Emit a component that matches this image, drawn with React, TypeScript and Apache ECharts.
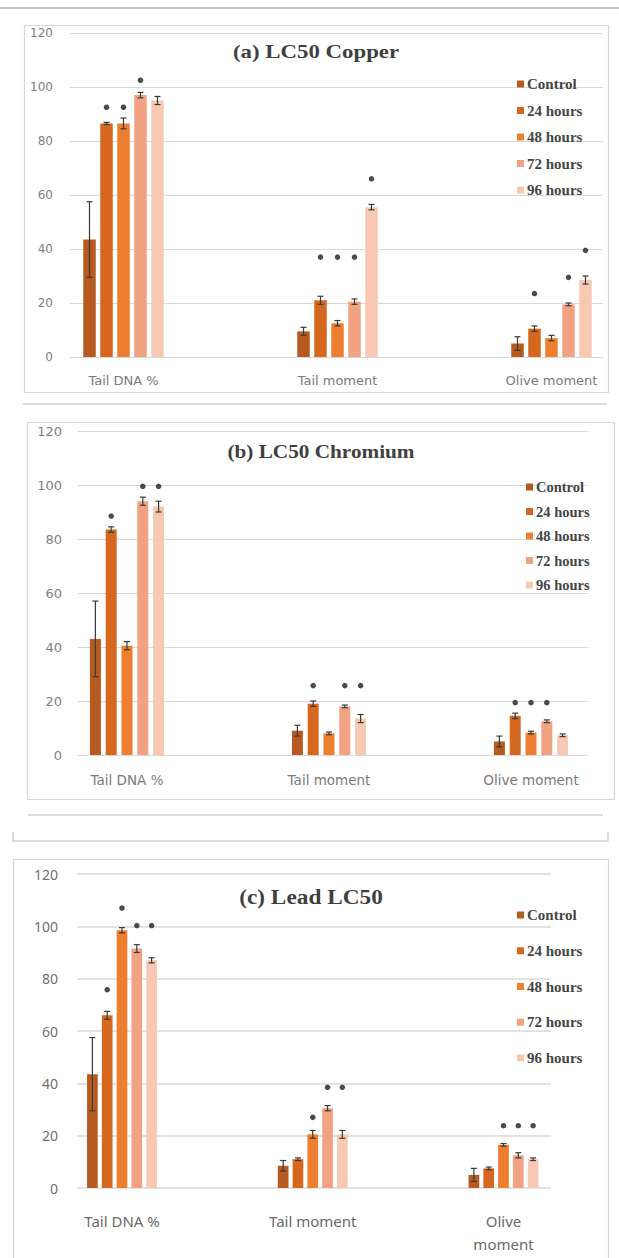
import React, { useEffect, useRef } from "react";
import * as echarts from "echarts";

// ---------- data ----------
const groupNames = ["Control", "24 hours", "48 hours", "72 hours", "96 hours"];
const categoriesAB = ["Tail DNA %", "Tail moment", "Olive moment"];
const categoriesC = ["Tail DNA %", "Tail moment", "Olive\nmoment"];
const yMin = 0;
const yMax = 120;
const yStep = 20;

// (a) LC50 Copper — per group: [Tail DNA %, Tail moment, Olive moment]
const copperValues = [
  [43.5, 9.5, 5],
  [86.5, 21, 10.5],
  [86.5, 12.5, 7],
  [97, 20.5, 19.5],
  [95, 55.5, 28.5],
];
const copperErrors = [
  [14, 1.5, 2.5],
  [0.4, 1.5, 1],
  [2, 1, 1],
  [1, 1, 0.5],
  [1.5, 1, 1.5],
];
const copperStars = [
  [null, null, null],
  [92.5, 37, 23.5],
  [92.5, 37, null],
  [102.5, 37, 29.5],
  [null, 66, 39.5],
];

// (b) LC50 Chromium
const chromiumValues = [
  [43, 9, 5],
  [83.5, 19, 14.5],
  [40.5, 8, 8.3],
  [94, 18, 12.5],
  [92, 13.5, 7.3],
];
const chromiumErrors = [
  [14, 2, 2],
  [1, 1, 1],
  [1.5, 0.5, 0.5],
  [1.5, 0.5, 0.5],
  [2, 1.5, 0.5],
];
const chromiumStars = [
  [null, null, null],
  [88.5, 25.7, 19.4],
  [null, null, 19.4],
  [99.5, 25.7, 19.4],
  [99.5, 25.7, null],
];

// (c) Lead LC50
const leadValues = [
  [43.5, 8.5, 5],
  [66, 11, 7.5],
  [98.5, 20.5, 16.5],
  [91.5, 30.5, 12.5],
  [87, 20.5, 11],
];
const leadErrors = [
  [14, 2, 2.5],
  [1.5, 0.5, 0.5],
  [1, 1.5, 0.5],
  [1.5, 1, 1],
  [1, 1.5, 0.5],
];
const leadStars = [
  [null, null, null],
  [75.8, null, null],
  [107, 27, 23.8],
  [100.3, 38.5, 23.8],
  [100.3, 38.5, 23.8],
];

const panelTitles = ["(a) LC50 Copper", "(b) LC50 Chromium", "(c) Lead LC50"];

// ---------- styles / layout ----------
const colors = ["#b65a20", "#d6671f", "#ee7e30", "#f1a282", "#f7c8b3"];
const gridColor = "#d9d9d9";
const frameColor = "#d6d6d6";

const layouts = [
  {
    gridA: { left: 70, top: 33, width: 533, height: 324 },
    gridB: { left: 123.5, top: 33, width: 428, height: 324 },
    step: 17, barW: 12.5,
    yFont: { fontFamily: "DejaVu Sans", fontSize: 12, color: "#808080", margin: 17 },
    xFont: { fontFamily: "DejaVu Sans", fontSize: 13, color: "#7a7a7a", margin: 16, lineHeight: 15 },
    title: { x: 316, y: 52, fontSize: 18, scaleX: 1.27 },
    legend: { left: 517, top: 76, fontSize: 15, lineHeight: 16, gap: 10.5 },
    frame: { x: 24, y: 25, w: 584, h: 367 },
  },
  {
    gridA: { left: 78, top: 431, width: 510, height: 324 },
    gridB: { left: 127, top: 431, width: 404, height: 324 },
    step: 15.8, barW: 11,
    yFont: { fontFamily: "DejaVu Sans", fontSize: 13, color: "#808080", margin: 16 },
    xFont: { fontFamily: "DejaVu Sans", fontSize: 13.5, color: "#7a7a7a", margin: 17, lineHeight: 15 },
    title: { x: 321, y: 452, fontSize: 18, scaleX: 1.18 },
    legend: { left: 526, top: 479, fontSize: 14.5, lineHeight: 16, gap: 8.5 },
    frame: { x: 27, y: 422, w: 587, h: 377 },
  },
  {
    gridA: { left: 77, top: 874, width: 474, height: 314 },
    gridB: { left: 122, top: 874, width: 381.5, height: 314 },
    step: 14.8, barW: 10.7,
    yFont: { fontFamily: "Noto Sans", fontSize: 14, color: "#707070", margin: 19 },
    xFont: { fontFamily: "Noto Sans", fontSize: 15, color: "#6a6a6a", margin: 21, lineHeight: 23 },
    title: { x: 311, y: 897, fontSize: 22, scaleX: 1.06 },
    legend: { left: 517, top: 906, fontSize: 15, lineHeight: 18, gap: 17.75 },
    frame: { x: 13, y: 859, w: 595, h: 420 },
  },
];

const panelData = [
  { cats: categoriesAB, values: copperValues, errors: copperErrors, stars: copperStars },
  { cats: categoriesAB, values: chromiumValues, errors: chromiumErrors, stars: chromiumStars },
  { cats: categoriesC, values: leadValues, errors: leadErrors, stars: leadStars },
];

function buildOption() {
  const grid: any[] = [];
  const xAxis: any[] = [];
  const yAxis: any[] = [];
  const series: any[] = [];
  const legend: any[] = [];
  const graphic: any[] = [];

  // decorative frames and separators
  graphic.push({ type: "line", shape: { x1: 0, y1: 8, x2: 619, y2: 8 }, style: { stroke: "#c4c4c4", lineWidth: 2 }, silent: true });
  graphic.push({ type: "line", shape: { x1: 23, y1: 404, x2: 607, y2: 404 }, style: { stroke: "#d0d0d0", lineWidth: 1.5 }, silent: true });
  graphic.push({ type: "line", shape: { x1: 28, y1: 815, x2: 603, y2: 815 }, style: { stroke: "#d0d0d0", lineWidth: 1.5 }, silent: true });
  graphic.push({
    type: "polyline",
    shape: { points: [[13, 832], [13, 841], [608, 841], [608, 832]] },
    style: { stroke: "#cfcfcf", lineWidth: 1.5, fill: null },
    silent: true,
  });

  layouts.forEach((L, p) => {
    const D = panelData[p];
    graphic.push({
      type: "rect",
      shape: { x: L.frame.x + 0.5, y: L.frame.y + 0.5, width: L.frame.w, height: L.frame.h },
      style: { fill: null, stroke: frameColor, lineWidth: 1.2 },
      silent: true,
      z: -1,
    });
    graphic.push({
      type: "text",
      x: L.title.x,
      y: L.title.y,
      scaleX: L.title.scaleX,
      style: {
        text: panelTitles[p],
        fontFamily: "Liberation Serif",
        fontWeight: "bold",
        fontSize: L.title.fontSize,
        fill: "#404040",
        align: "center",
        verticalAlign: "middle",
      },
      silent: true,
    });

    const a = 2 * p;
    const b = 2 * p + 1;
    grid.push({ ...L.gridA, containLabel: false });
    grid.push({ ...L.gridB, containLabel: false });

    xAxis.push({ type: "value", gridIndex: a, show: false, min: 0, max: 1 });
    xAxis.push({
      type: "category",
      gridIndex: b,
      data: D.cats,
      boundaryGap: false,
      axisLine: { show: false },
      axisTick: { show: false },
      splitLine: { show: false },
      axisLabel: {
        interval: 0,
        color: L.xFont.color,
        fontFamily: L.xFont.fontFamily,
        fontSize: L.xFont.fontSize,
        margin: L.xFont.margin,
        lineHeight: L.xFont.lineHeight,
      },
    });
    yAxis.push({
      type: "value",
      gridIndex: a,
      min: yMin,
      max: yMax,
      interval: yStep,
      axisLine: { show: false },
      axisTick: { show: false },
      axisLabel: {
        color: L.yFont.color,
        fontFamily: L.yFont.fontFamily,
        fontSize: L.yFont.fontSize,
        margin: L.yFont.margin,
      },
      splitLine: { show: true, lineStyle: { color: gridColor, width: p === 2 ? 1.5 : 1.2 } },
    });
    yAxis.push({ type: "value", gridIndex: b, min: yMin, max: yMax, show: false, splitLine: { show: false } });

    const gapPct = (((L.step - L.barW) / L.barW) * 100).toFixed(1) + "%";

    groupNames.forEach((name, i) => {
      const off = (i - 2) * L.step;
      series.push({
        type: "bar",
        name,
        xAxisIndex: b,
        yAxisIndex: b,
        data: D.values[i],
        barWidth: L.barW,
        barGap: gapPct,
        clip: false,
        itemStyle: { color: colors[i] },
        silent: true,
        z: 2,
      });
      series.push({
        type: "custom",
        name: `err-${p}-${i}`,
        xAxisIndex: b,
        yAxisIndex: b,
        clip: false,
        silent: true,
        z: 3,
        encode: { x: 0, y: 1 },
        data: D.values[i].map((v, j) => [j, v, D.errors[i][j]]),
        renderItem: (params: any, api: any) => {
          const j = api.value(0);
          const v = api.value(1);
          const e = api.value(2);
          const top = api.coord([j, v + e]);
          const bot = api.coord([j, v - e]);
          const x = top[0] + off;
          const st = { stroke: "#3a3a3a", lineWidth: 1.2 };
          return {
            type: "group",
            children: [
              { type: "line", shape: { x1: x, y1: top[1], x2: x, y2: bot[1] }, style: st },
              { type: "line", shape: { x1: x - 3, y1: top[1], x2: x + 3, y2: top[1] }, style: st },
              { type: "line", shape: { x1: x - 3, y1: bot[1], x2: x + 3, y2: bot[1] }, style: st },
            ],
          };
        },
      });
      const starData = D.stars[i]
        .map((v, j) => (v == null ? null : [j, v]))
        .filter((d) => d != null);
      if (starData.length) {
        series.push({
          type: "scatter",
          name: `star-${p}-${i}`,
          xAxisIndex: b,
          yAxisIndex: b,
          data: starData,
          symbol: "circle",
          symbolSize: 5.5,
          symbolOffset: [off, 0],
          clip: false,
          silent: true,
          itemStyle: { color: "#1e1e1e" },
          z: 4,
        });
      }
    });

    legend.push({
      data: groupNames,
      orient: "vertical",
      left: L.legend.left,
      top: L.legend.top,
      padding: 0,
      itemGap: L.legend.gap,
      itemWidth: 7,
      itemHeight: 7,
      icon: "rect",
      selectedMode: false,
      textStyle: {
        fontFamily: "Liberation Serif",
        fontWeight: "bold",
        fontSize: L.legend.fontSize,
        lineHeight: L.legend.lineHeight,
        color: "#454545",
        padding: [0, 0, 0, -2],
      },
    });
  });

  return {
    animation: false,
    backgroundColor: "#ffffff",
    grid,
    xAxis,
    yAxis,
    series,
    legend,
    graphic,
  };
}

export default function App() {
  const ref = useRef<HTMLDivElement>(null);
  useEffect(() => {
    if (!ref.current) return;
    const chart = echarts.init(ref.current, undefined, { renderer: "svg" });
    chart.setOption(buildOption());
    return () => chart.dispose();
  }, []);
  return (
    <div
      ref={ref}
      style={{ position: "absolute", left: 0, top: 0, width: 619, height: 1258, background: "#fff" }}
    />
  );
}
